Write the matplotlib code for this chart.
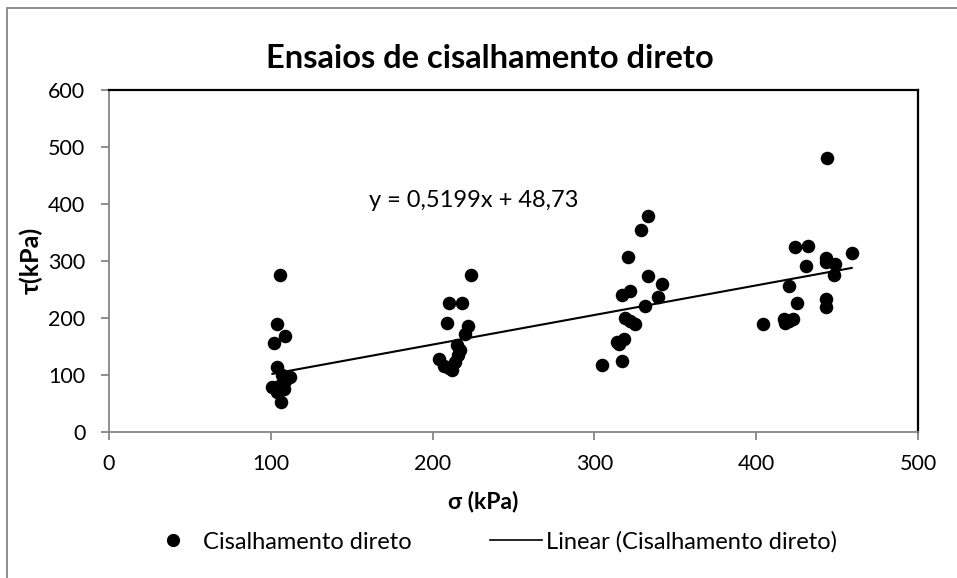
import matplotlib
matplotlib.use("Agg")
import matplotlib.pyplot as plt
from matplotlib.lines import Line2D
import numpy as np

plt.rcParams['font.family'] = ['Lato', 'DejaVu Sans']

# Normal stress (kPa) and shear stress (kPa) from the direct shear tests
sigma = [105.5, 104, 109, 102, 104, 107, 112, 109, 101, 105, 108, 104, 106,
         224, 210, 218, 209, 222, 220, 215, 217, 216, 204, 214, 207, 210, 212,
         333, 329, 321, 333, 342, 317, 322, 339, 331, 319, 322, 325, 314, 318, 315, 317, 305,
         444, 424, 432, 459, 443, 449, 443, 431, 448, 420, 425, 443, 443, 404, 417, 423, 418, 420]
tau = [275, 188, 168, 155, 113, 100, 96, 88, 78, 80, 75, 70, 52,
       275, 225, 225, 190, 185, 172, 152, 143, 135, 127, 122, 115, 112, 108,
       379, 354, 307, 274, 259, 239, 246, 236, 220, 200, 194, 188, 158, 163, 153, 123, 116,
       480, 325, 326, 313, 304, 295, 297, 291, 275, 256, 226, 232, 218, 188, 198, 198, 190, 195]

slope = 0.5199
intercept = 48.73
xticks = [0, 100, 200, 300, 400, 500]
yticks = [0, 100, 200, 300, 400, 500, 600]

W, H = 957, 578
fig = plt.figure(figsize=(W / 100, H / 100), dpi=100)
ax = fig.add_axes([109 / W, 1 - 431.5 / H, (918 - 109) / W, (431.5 - 90) / H])

gray = '#868686'
# outer chart border
fig.add_artist(plt.Rectangle((7 / W, -0.1), 1.2, 1 - 8 / H + 0.1, transform=fig.transFigure,
                             fill=False, edgecolor=gray, linewidth=1.3))

ax.scatter(sigma, tau, s=95, color='black', zorder=3, linewidths=0)
xs = np.array([min(sigma), max(sigma)])
ax.plot(xs, slope * xs + intercept, color='black', linewidth=1.5, zorder=2)

ax.set_xlim(0, 500)
ax.set_ylim(0, 600)
ax.set_xticks(xticks)
ax.set_yticks(yticks)
ax.tick_params(direction='out', length=6, width=1.3, color=gray, labelsize=15.5)
ax.tick_params(axis='y', pad=11)
ax.tick_params(axis='x', pad=10)
for side in ('left', 'bottom'):
    ax.spines[side].set_color(gray)
    ax.spines[side].set_linewidth(1.3)
for side in ('top', 'right'):
    ax.spines[side].set_color('black')
    ax.spines[side].set_linewidth(1.6)

ax.set_xlabel('σ (kPa)', fontsize=16.5, fontweight='bold')
ax.set_ylabel('τ(kPa)', fontsize=18, fontweight='bold')
ax.xaxis.set_label_coords(0.463, -0.174)
ax.yaxis.set_label_coords(-0.082, 0.5)
ax.text(161, 405, 'y = 0,5199x + 48,73', fontsize=17, ha='left', va='center')

fig.text(490 / W, 1 - 58 / H, 'Ensaios de cisalhamento direto', fontsize=23.5,
         fontweight='bold', ha='center', va='center')

handles = [Line2D([], [], marker='o', linestyle='none', color='black', markersize=9.5,
                  markeredgewidth=0),
           Line2D([], [], color='black', linewidth=1.2)]
fig.legend(handles, ['Cisalhamento direto', 'Linear (Cisalhamento direto)'],
           loc='center', bbox_to_anchor=(492 / W, 1 - 542 / H), ncol=2, frameon=False,
           fontsize=17, handlelength=2.2, handletextpad=0.17, columnspacing=3.35)

fig.savefig('out.png', dpi=100)
